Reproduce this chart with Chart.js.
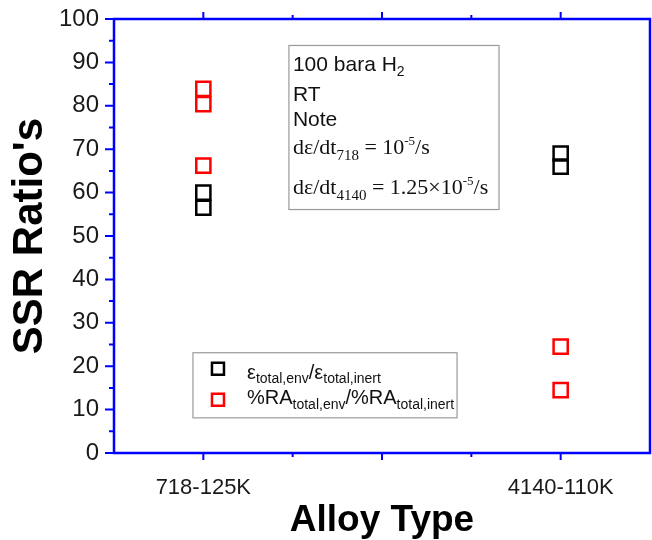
<!DOCTYPE html>
<html lang="en">
<head>
<meta charset="UTF-8">
<title>SSR Ratio's</title>
<script src="https://cdn.jsdelivr.net/npm/chart.js"></script>
<style>
  html, body { margin: 0; padding: 0; background: #fff; }
  canvas { display: block; }
</style>
</head>
<body>
<canvas id="ssrChart" width="652" height="540"></canvas>
<script>
// values
var alloys = ['718-125K', '4140-110K'];
var alloyPos = [1, 3];
var strain718 = [60.0, 56.5];
var strain4140 = [69.0, 66.0];
var ra718 = [83.9, 80.4, 66.2];
var ra4140 = [24.5, 14.5];
var yMin = 0, yMax = 100, yStep = 10;

var SANS = '"Liberation Sans", Arial, sans-serif';
var SERIF = '"Liberation Serif", "Times New Roman", serif';

function toPoints(pos, vals) {
    return vals.map(function (v) { return { x: pos, y: v }; });
}

function drawRuns(ctx, x, y, runs) {
    runs.forEach(function (r) {
        ctx.font = r.f;
        ctx.fillText(r.t, x, y + (r.dy || 0));
        x += ctx.measureText(r.t).width;
    });
}

function noPad(s) {
    s.paddingTop = 0; s.paddingBottom = 0;
    s.paddingLeft = 0; s.paddingRight = 0;
}

var frame = {
    id: 'frame',
    afterDraw: function (chart) {
        var ctx = chart.ctx, a = chart.chartArea;
        var xs = chart.scales.x, ys = chart.scales.y;
        ctx.save();
        // blue box + ticks
        ctx.strokeStyle = '#0000ff';
        ctx.lineWidth = 2.5;
        ctx.strokeRect(a.left, a.top, a.right - a.left, a.bottom - a.top);
        ctx.lineWidth = 2;
        ctx.beginPath();
        for (var v = yMin; v <= yMax; v += yStep / 2) {
            var py = ys.getPixelForValue(v);
            var len = (v % yStep === 0) ? 9 : 5;
            ctx.moveTo(a.left, py); ctx.lineTo(a.left - len, py);
        }
        for (var x = 1; x <= 3; x += 0.5) {
            var px = xs.getPixelForValue(x);
            var l = (x % 1 === 0) ? 7 : 4;
            ctx.moveTo(px, a.top); ctx.lineTo(px, a.top - l);
            ctx.moveTo(px, a.bottom); ctx.lineTo(px, a.bottom + l);
        }
        ctx.stroke();

        // note box
        var bx0 = xs.getPixelForValue(1.479), bx1 = xs.getPixelForValue(2.655);
        var by0 = ys.getPixelForValue(93.9), by1 = ys.getPixelForValue(56.1);
        ctx.strokeStyle = '#9a9a9a';
        ctx.lineWidth = 1.2;
        ctx.strokeRect(bx0, by0, bx1 - bx0, by1 - by0);
        ctx.fillStyle = '#111';
        ctx.textBaseline = 'alphabetic';
        ctx.textAlign = 'left';
        var tx = bx0 + 4;
        var s21 = '21px ' + SANS, s14 = '14px ' + SANS;
        var t22 = '22px ' + SERIF, t15 = '15px ' + SERIF, t13 = '13px ' + SERIF;
        drawRuns(ctx, tx, by0 + 26, [{ t: '100 bara H', f: s21 }, { t: '2', f: s14, dy: 5 }]);
        drawRuns(ctx, tx, by0 + 56, [{ t: 'RT', f: s21 }]);
        drawRuns(ctx, tx, by0 + 81, [{ t: 'Note', f: s21 }]);
        drawRuns(ctx, tx, by0 + 109, [
            { t: 'd\u03b5/dt', f: t22 }, { t: '718', f: t15, dy: 6 },
            { t: ' = 10', f: t22 }, { t: '-5', f: t13, dy: -9 }, { t: '/s', f: t22 }]);
        drawRuns(ctx, tx, by0 + 149, [
            { t: 'd\u03b5/dt', f: t22 }, { t: '4140', f: t15, dy: 6 },
            { t: ' = 1.25\u00d710', f: t22 }, { t: '-5', f: t13, dy: -9 }, { t: '/s', f: t22 }]);

        // legend box
        var lx0 = xs.getPixelForValue(0.942), lx1 = xs.getPixelForValue(2.42);
        var ly0 = ys.getPixelForValue(23.1), ly1 = ys.getPixelForValue(8.1);
        ctx.strokeStyle = '#9a9a9a';
        ctx.strokeRect(lx0, ly0, lx1 - lx0, ly1 - ly0);
        var ds = chart.data.datasets;
        var s20 = '20px ' + SANS, s15 = '14px ' + SANS;
        ctx.lineWidth = 2.5;
        ctx.strokeStyle = ds[0].borderColor;
        ctx.strokeRect(lx0 + 19, ly0 + 10, 12, 12);
        ctx.strokeStyle = ds[1].borderColor;
        ctx.strokeRect(lx0 + 19, ly0 + 41, 12, 12);
        ctx.fillStyle = '#111';
        drawRuns(ctx, lx0 + 54, ly0 + 26, [
            { t: '\u03b5', f: s20 }, { t: 'total,env', f: s15, dy: 4 },
            { t: '/\u03b5', f: s20 }, { t: 'total,inert', f: s15, dy: 4 }]);
        drawRuns(ctx, lx0 + 54, ly0 + 51, [
            { t: '%RA', f: s20 }, { t: 'total,env', f: s15, dy: 5 },
            { t: '/%RA', f: s20 }, { t: 'total,inert', f: s15, dy: 5 }]);
        ctx.restore();
    }
};

var ctx = document.getElementById('ssrChart').getContext('2d');
var chart = new Chart(ctx, {
    type: 'scatter',
    data: {
        datasets: [{
            label: 'strain ratio',
            data: toPoints(alloyPos[0], strain718).concat(toPoints(alloyPos[1], strain4140)),
            borderColor: '#000000',
            backgroundColor: 'rgba(0,0,0,0)',
            pointStyle: 'rect',
            pointRadius: 10,
            borderWidth: 2.5
        }, {
            label: 'RA ratio',
            data: toPoints(alloyPos[0], ra718).concat(toPoints(alloyPos[1], ra4140)),
            borderColor: '#ff0000',
            backgroundColor: 'rgba(0,0,0,0)',
            pointStyle: 'rect',
            pointRadius: 10,
            borderWidth: 2.5
        }]
    },
    options: {
        responsive: false,
        animation: false,
        layout: { autoPadding: false, padding: { top: 19, right: 2, left: 0, bottom: 0 } },
        plugins: { legend: { display: false }, tooltip: { enabled: false } },
        scales: {
            x: {
                type: 'linear',
                min: 0.5, max: 3.5,
                afterFit: function (s) { s.height = 87; noPad(s); },
                afterBuildTicks: function (s) {
                    s.ticks = [{ value: 1 }, { value: 2 }, { value: 3 }];
                },
                grid: { display: false, drawTicks: false },
                border: { display: false },
                ticks: {
                    padding: 22,
                    color: '#1a1a1a',
                    font: { family: SANS, size: 22 },
                    callback: function (v) {
                        var i = alloyPos.indexOf(v);
                        return i >= 0 ? alloys[i] : '';
                    }
                },
                title: {
                    display: true, text: 'Alloy Type', color: '#000',
                    font: { family: SANS, size: 37, weight: 'bold' },
                    padding: { top: 0, bottom: -3 }
                }
            },
            y: {
                min: yMin, max: yMax,
                afterFit: function (s) { s.width = 114; noPad(s); },
                grid: { display: false, drawTicks: false },
                border: { display: false },
                ticks: {
                    stepSize: yStep,
                    padding: 15,
                    color: '#1a1a1a',
                    font: { family: SANS, size: 24 }
                },
                title: {
                    display: true, text: "SSR Ratio's", color: '#000',
                    font: { family: SANS, size: 42, weight: 'bold' },
                    padding: { top: 5, bottom: 0 }
                }
            }
        }
    },
    plugins: [frame]
});
</script>
</body>
</html>
